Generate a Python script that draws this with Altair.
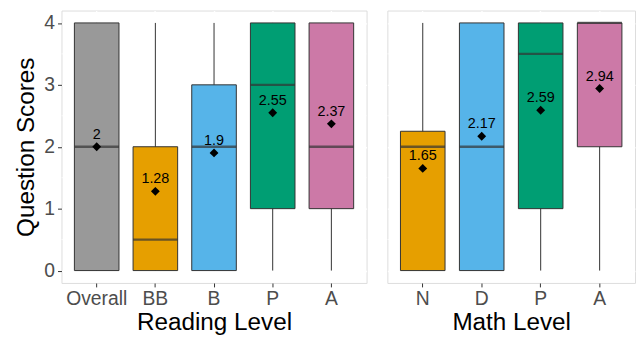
import altair as alt
import pandas as pd

# Reading level panel
read_cats = ["Overall", "BB", "B", "P", "A"]
read_lo = [0, 0, 0, 0, 0]
read_q1 = [0, 0, 0, 1, 1]
read_med = [2, 0.5, 2, 3, 2]
read_q3 = [4, 2, 3, 4, 4]
read_hi = [4, 4, 4, 4, 4]
read_mean = [2, 1.28, 1.9, 2.55, 2.37]
read_colors = ["#999999", "#E69F00", "#56B4E9", "#009E73", "#CC79A7"]

# Math level panel
math_cats = ["N", "D", "P", "A"]
math_lo = [0, 0, 0, 0]
math_q1 = [0, 0, 1, 2]
math_med = [2, 2, 3.5, 4]
math_q3 = [2.25, 4, 4, 4]
math_hi = [4, 4, 4, 4]
math_mean = [1.65, 2.17, 2.59, 2.94]
math_colors = ["#E69F00", "#56B4E9", "#009E73", "#CC79A7"]

minor_vals = [0.5, 1.5, 2.5, 3.5]
major_vals = [0, 1, 2, 3, 4]

FONT = "Liberation Sans"
YSCALE = alt.Scale(domain=[-0.2, 4.2], nice=False, zero=False)


def panel(cats, lo, q1, med, q3, hi, mean, colors, width, xtitle, show_y):
    df = pd.DataFrame({
        "cat": cats, "lo": lo, "q1": q1, "med": med, "q3": q3, "hi": hi,
        "mean": mean, "color": colors,
        "label": [f"{m:g}" for m in mean],
    })
    minor = pd.DataFrame({"v": minor_vals})

    if show_y:
        yaxis = alt.Axis(values=major_vals, grid=True, gridColor="white", gridWidth=1.4,
                         domain=False, tickColor="#333333", tickSize=4, tickWidth=1,
                         labelFontSize=19.5, labelColor="#4D4D4D", labelPadding=3,
                         title="Question Scores", titleFontSize=24.5,
                         titleFontWeight="normal", titleColor="black", titlePadding=5)
    else:
        yaxis = alt.Axis(values=major_vals, grid=True, gridColor="white", gridWidth=1.4,
                         domain=False, ticks=False, labels=False, title=None)

    xaxis = alt.Axis(title=xtitle, bandPosition=0.5, grid=True, gridColor="white",
                     gridWidth=1.4, domain=False, tickColor="#333333", tickSize=4,
                     labelAngle=0, labelFontSize=19.5, labelColor="#4D4D4D", labelPadding=3,
                     titleFontSize=24.5, titleFontWeight="normal", titleColor="black",
                     titlePadding=3)
    x = alt.X("cat:N", sort=cats, axis=xaxis,
              scale=alt.Scale(paddingInner=0, paddingOuter=0.1))

    minor_layer = alt.Chart(minor).mark_rule(color="white", strokeWidth=0.7).encode(
        y=alt.Y("v:Q", scale=YSCALE, axis=yaxis)
    )
    base = alt.Chart(df)
    whisk = base.mark_rule(color="#333333", strokeWidth=1).encode(
        x=x, y=alt.Y("lo:Q", scale=YSCALE, axis=yaxis), y2="hi:Q"
    )
    box = base.mark_bar(size=45, stroke="#333333", strokeWidth=1).encode(
        x=x, y=alt.Y("q1:Q", scale=YSCALE, axis=yaxis), y2="q3:Q",
        fill=alt.Fill("color:N", scale=None)
    )
    median = base.mark_tick(size=45, thickness=2.4, color="#333333").encode(
        x=x, y=alt.Y("med:Q", scale=YSCALE, axis=yaxis)
    )
    pts = base.mark_point(shape="diamond", filled=True, size=80, color="black", opacity=1).encode(
        x=x, y=alt.Y("mean:Q", scale=YSCALE, axis=yaxis)
    )
    txt = base.mark_text(dy=-12, fontSize=14.5, color="black", font=FONT).encode(
        x=x, y=alt.Y("mean:Q", scale=YSCALE, axis=yaxis), text="label:N"
    )
    return alt.layer(minor_layer, whisk, box, median, pts, txt).properties(
        width=width, height=275
    )


left = panel(read_cats, read_lo, read_q1, read_med, read_q3, read_hi, read_mean,
             read_colors, 308, "Reading Level", True)
right = panel(math_cats, math_lo, math_q1, math_med, math_q3, math_hi, math_mean,
              math_colors, 250, "Math Level", False)

chart = alt.hconcat(left, right, spacing=19).properties(
    padding={"left": 5, "top": 0, "right": 0, "bottom": 0}
).configure_view(fill="#EBEBEB", strokeWidth=0).configure(font=FONT)

chart.save("out.html", embed_options={"renderer": "svg", "actions": False})
